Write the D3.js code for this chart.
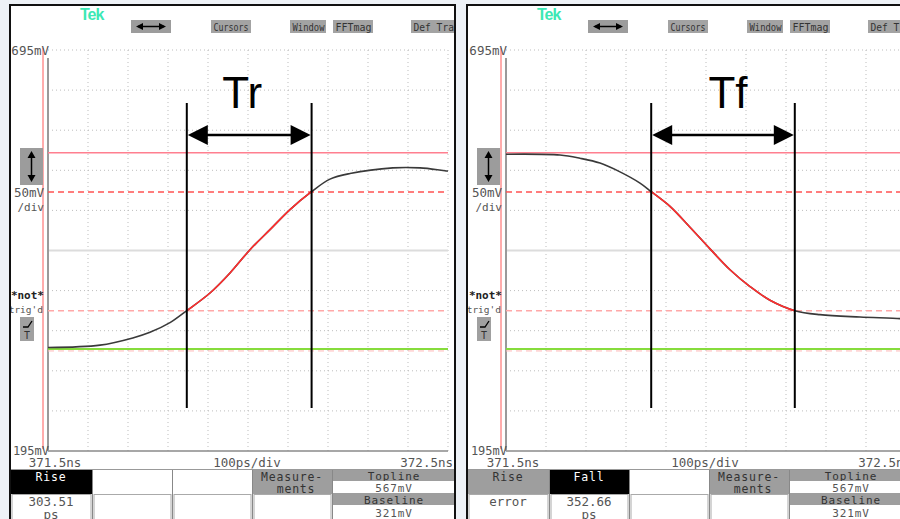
<!DOCTYPE html>
<html><head><meta charset="utf-8">
<script src="https://cdn.jsdelivr.net/npm/d3@7"></script>
<style>body{margin:0;background:#eef2f7;} svg{display:block}</style>
</head><body><svg id="c" width="900" height="519"></svg>
<script>
// ---- data (time in ps after 371.5ns, voltage in mV) ----
const timeDomain = [0, 1000];
const voltDomain = [195, 695];
const riseTime = [0, 130, 212, 255, 305, 347, 405, 455, 505, 555, 605, 658, 705, 755, 862, 930, 1000];
const riseVolt = [324, 327, 336, 343, 355, 370, 392, 417, 446, 471, 496, 518, 534, 541, 548, 548, 544];
const fallTime = [0, 135, 185, 235, 285, 335, 364, 410, 460, 510, 560, 610, 660, 722, 785, 885, 985, 1000];
const fallVolt = [565, 564, 560, 554, 543, 529, 518, 500, 474, 447, 421, 400, 383, 370, 365, 362, 360, 359];
const topline = 567, baseline = 321, level80 = 518, level20 = 370;
const riseCursors = [347, 659];
const fallCursors = [363, 722];
const annotLabels = ["Tr", "Tf"];
const voltLabels = ["695mV", "195mV"];
const timeLabels = ["371.5ns", "100ps/div", "372.5ns"];
const menuLabels = ["Cursors", "Window", "FFTmag", "Def Trace"];
const headerLeft = ["Rise", "", "", "Measure-|ments"];
const valueLeft = ["303.51|ps", "", "", ""];
const headerRight = ["Rise", "Fall", "", "Measure-|ments"];
const valueRight = ["error", "352.66|ps", "", ""];
const sideTexts = ["Topline", "567mV", "Baseline", "321mV"];

const svg = d3.select("#c");
const mono = "'DejaVu Sans Mono', monospace";
const txtCol = "#555";

function panel(L, R, x0, tr, cursors, label, header, values, activeIdx) {
  const g = svg.append("g");
  const clipId = "clip" + L;
  svg.append("clipPath").attr("id", clipId).append("rect").attr("x", L).attr("y", 5).attr("width", R - L).attr("height", 520);
  const p = g.append("g").attr("clip-path", `url(#${clipId})`);
  p.append("rect").attr("x", L).attr("y", 5).attr("width", R - L).attr("height", 520).attr("fill", "#fff");

  const x = d3.scaleLinear().domain(timeDomain).range([x0, x0 + 400]);
  const y = d3.scaleLinear().domain(voltDomain).range([451, 50]);

  // grid
  const vt = d3.range(100, 1001, 100);
  p.selectAll(null).data(vt).join("line")
    .attr("x1", d => x(d)).attr("x2", d => x(d)).attr("y1", 50).attr("y2", 451)
    .attr("stroke", "#bdbdbd").attr("stroke-width", 1).attr("stroke-dasharray", "1,3");
  const ht = d3.range(245, 696, 50).filter(v => v !== 445);
  p.selectAll(null).data(ht).join("line")
    .attr("x1", x0).attr("x2", x0 + 400).attr("y1", d => y(d)).attr("y2", d => y(d))
    .attr("stroke", "#bdbdbd").attr("stroke-width", 1).attr("stroke-dasharray", "1,3");
  p.append("line").attr("x1", x0).attr("x2", x0 + 400).attr("y1", y(445)).attr("y2", y(445))
    .attr("stroke", "#dcdcdc").attr("stroke-width", 2);
  p.append("line").attr("x1", x0).attr("x2", x0 + 400).attr("y1", y(195)).attr("y2", y(195))
    .attr("stroke", "#8a8a8a").attr("stroke-width", 1.5);
  // left axis lines
  p.append("line").attr("x1", x0).attr("x2", x0).attr("y1", 58).attr("y2", 451)
    .attr("stroke", "#9a9a9a").attr("stroke-width", 2);
  p.append("line").attr("x1", x0 - 5).attr("x2", x0 - 5).attr("y1", 48).attr("y2", 449)
    .attr("stroke", "#ff5a5a").attr("stroke-width", 1);

  // reference levels
  p.append("line").attr("x1", x0).attr("x2", x0 + 400).attr("y1", y(topline)).attr("y2", y(topline))
    .attr("stroke", "#ff7f8f").attr("stroke-width", 1.5);
  p.append("line").attr("x1", x0).attr("x2", x0 + 400).attr("y1", y(level80)).attr("y2", y(level80))
    .attr("stroke", "#ff5252").attr("stroke-width", 1.5).attr("stroke-dasharray", "6,4");
  p.append("line").attr("x1", x0).attr("x2", x0 + 400).attr("y1", y(level20)).attr("y2", y(level20))
    .attr("stroke", "#ffa8a8").attr("stroke-width", 1.5).attr("stroke-dasharray", "6,4");
  p.append("line").attr("x1", x0).attr("x2", x0 + 400).attr("y1", y(baseline) - 1).attr("y2", y(baseline) - 1)
    .attr("stroke", "#86dc3c").attr("stroke-width", 2);
  p.append("line").attr("x1", x0).attr("x2", x0 + 400).attr("y1", y(baseline) + 1).attr("y2", y(baseline) + 1)
    .attr("stroke", "#ffb8b8").attr("stroke-width", 1).attr("stroke-dasharray", "6,4");

  // trace
  const line = d3.line().x(d => x(d[0])).y(d => y(d[1])).curve(d3.curveCatmullRom.alpha(0.5));
  const pts = tr[0].map((t, i) => [t, tr[1][i]]);
  p.append("path").attr("d", line(pts)).attr("fill", "none").attr("stroke", "#3a3a3a").attr("stroke-width", 1.6);
  const rc = "rc" + L;
  svg.append("clipPath").attr("id", rc).append("rect")
    .attr("x", x(cursors[0])).attr("y", 0).attr("width", x(cursors[1]) - x(cursors[0])).attr("height", 519);
  p.append("g").attr("clip-path", `url(#${rc})`).append("path").attr("d", line(pts))
    .attr("fill", "none").attr("stroke", "#ff2e2e").attr("stroke-width", 1.6);

  // annotation cursors
  cursors.forEach(c => {
    p.append("line").attr("x1", x(c)).attr("x2", x(c)).attr("y1", 103).attr("y2", 408)
      .attr("stroke", "#000").attr("stroke-width", 2);
  });
  const ax0 = x(cursors[0]), ax1 = x(cursors[1]), ay = 135;
  p.append("line").attr("x1", ax0 + 18).attr("x2", ax1 - 18).attr("y1", ay).attr("y2", ay)
    .attr("stroke", "#000").attr("stroke-width", 2.5);
  p.append("path").attr("d", `M${ax0 + 1},${ay} L${ax0 + 21},${ay - 10} L${ax0 + 21},${ay + 10} Z`).attr("fill", "#000");
  p.append("path").attr("d", `M${ax1 - 1},${ay} L${ax1 - 21},${ay - 10} L${ax1 - 21},${ay + 10} Z`).attr("fill", "#000");
  p.append("text").attr("x", (ax0 + ax1) / 2 + (label === "Tr" ? -7 : 5)).attr("y", 108)
    .attr("text-anchor", "middle").attr("font-family", "'Liberation Sans', Arial, sans-serif")
    .attr("font-size", 44).attr("fill", "#000").text(label);

  // top menu
  p.append("text").attr("x", L + 70).attr("y", 20).attr("font-family", "'Liberation Sans', sans-serif")
    .attr("font-weight", "bold").attr("font-size", 16).attr("fill", "#3ce8b4").attr("letter-spacing", -1).text("Tek");
  p.append("rect").attr("x", L + 121).attr("y", 20).attr("width", 40).attr("height", 13).attr("fill", "#9c9c9c");
  p.append("line").attr("x1", L + 128).attr("x2", L + 154).attr("y1", 26.5).attr("y2", 26.5).attr("stroke", "#000").attr("stroke-width", 1.5);
  p.append("path").attr("d", `M${L + 126},26.5 l7,-3.5 l0,7 Z M${L + 156},26.5 l-7,-3.5 l0,7 Z`).attr("fill", "#000");
  const menuX = [L + 201, L + 280, L + 323, L + 401];
  const menuW = [40, 36, 40, 46];
  const menuTL = [35, 32, 36, 52];
  menuLabels.forEach((m, i) => {
    p.append("rect").attr("x", menuX[i]).attr("y", 20).attr("width", menuW[i]).attr("height", 13).attr("fill", "#a3a3a3");
    p.append("text").attr("x", menuX[i] + 2.5).attr("y", 30.5).attr("font-family", mono).attr("font-size", 10)
      .attr("textLength", menuTL[i]).attr("lengthAdjust", "spacingAndGlyphs")
      .attr("fill", "#333").text(m);
  });

  // left labels
  const lt = (t, yy, opt = {}) => p.append("text").attr("x", opt.x ?? (x0 + 1)).attr("y", yy)
    .attr("text-anchor", opt.anchor ?? "end").attr("font-family", mono).attr("font-size", opt.size ?? 12.5)
    .attr("font-weight", opt.bold ? "bold" : "normal").attr("fill", opt.fill ?? txtCol).text(t);
  lt(voltLabels[0], y(695) + 5);
  lt(voltLabels[1], y(195) + 4, { size: 12 });
  lt("50mV", 197, { x: x0 - 4 });
  lt("/div", 211, { x: x0 - 4, size: 11 });
  lt("*not*", 299, { x: x0 - 4, bold: true, size: 11, fill: "#222" });
  lt("trig'd", 313, { x: x0 - 5, size: 9.5 });
  p.append("rect").attr("x", L + 10).attr("y", 148).attr("width", 23).attr("height", 37).attr("fill", "#9c9c9c");
  p.append("line").attr("x1", L + 21.5).attr("x2", L + 21.5).attr("y1", 154).attr("y2", 179).attr("stroke", "#000").attr("stroke-width", 1.5);
  p.append("path").attr("d", `M${L + 21.5},151 l-4,7 l8,0 Z M${L + 21.5},182 l-4,-7 l8,0 Z`).attr("fill", "#000");
  p.append("rect").attr("x", L + 10).attr("y", 317).attr("width", 14).attr("height", 24).attr("fill", "#a0a0a0");
  p.append("path").attr("d", `M${L + 13},327 l5,0 l4,-6`).attr("fill", "none").attr("stroke", "#000").attr("stroke-width", 1.3);
  p.append("text").attr("x", L + 17).attr("y", 339).attr("text-anchor", "middle").attr("font-family", mono)
    .attr("font-size", 10).attr("fill", "#333").text("T");

  // time labels
  lt(timeLabels[0], 467, { x: x(0) + 7, anchor: "middle" });
  lt(timeLabels[1], 467, { x: x(500) - 1, anchor: "middle" });
  lt(timeLabels[2], 467, { x: x(1000) + 5, anchor: "end" });
  p.append("line").attr("x1", L).attr("x2", R).attr("y1", 469.5).attr("y2", 469.5).attr("stroke", "#999").attr("stroke-width", 1);

  // bottom table
  const colX = [0, 82, 162, 242, 322].map(d => L + d);
  header.forEach((h, i) => {
    const cx = colX[i], w = colX[i + 1] - colX[i];
    let fill = "#fff", tc = txtCol;
    if (i === activeIdx) { fill = "#000"; tc = "#fff"; }
    else if (h) { fill = "#9e9e9e"; tc = "#333"; }
    p.append("rect").attr("x", cx + 1).attr("y", 470).attr("width", w - 1).attr("height", 24).attr("fill", fill);
    p.append("rect").attr("x", cx + 2).attr("y", 494.5).attr("width", w - 3).attr("height", 30)
      .attr("fill", "#fff").attr("stroke", "#aaa").attr("stroke-width", 1);
    p.append("line").attr("x1", cx + 0.5).attr("x2", cx + 0.5).attr("y1", 470).attr("y2", 519).attr("stroke", "#888");
    h.split("|").forEach((s, k) => {
      p.append("text").attr("x", cx + w / 2 + (k ? 4 : 0)).attr("y", 480.5 + k * 12.5).attr("text-anchor", "middle")
        .attr("font-family", mono).attr("font-size", 11.5).attr("letter-spacing", 0.8).attr("fill", tc).text(s);
    });
    values[i].split("|").forEach((s, k) => {
      p.append("text").attr("x", cx + w / 2).attr("y", 506 + k * 13).attr("text-anchor", "middle")
        .attr("font-family", mono).attr("font-size", 12.5).attr("fill", txtCol).text(s);
    });
  });
  const sx = colX[4];
  const rows = [[470, 481, "#9e9e9e"], [481, 493, "#fff"], [493, 505, "#9e9e9e"], [505, 519, "#fff"]];
  const rowBase = [480, 492, 504, 517];
  rows.forEach((r, i) => {
    p.append("rect").attr("x", sx + 1).attr("y", r[0]).attr("width", R - sx).attr("height", r[1] - r[0]).attr("fill", r[2]);
    p.append("text").attr("x", sx + 62).attr("y", rowBase[i]).attr("text-anchor", "middle").attr("font-family", mono)
      .attr("font-size", 11).attr("letter-spacing", 0.9).attr("fill", i % 2 ? txtCol : "#333").text(sideTexts[i]);
  });
  p.append("line").attr("x1", sx + 0.5).attr("x2", sx + 0.5).attr("y1", 470).attr("y2", 519).attr("stroke", "#888");

  // frame
  g.append("path").attr("d", `M${L},525 L${L},5 L${R},5 L${R},525`).attr("fill", "none")
    .attr("stroke", "#111").attr("stroke-width", 2);
}

panel(10, 455, 48, [riseTime, riseVolt], riseCursors, annotLabels[0], headerLeft, valueLeft, 0);
panel(467, 930, 506, [fallTime, fallVolt], fallCursors, annotLabels[1], headerRight, valueRight, 1);
</script></body></html>
